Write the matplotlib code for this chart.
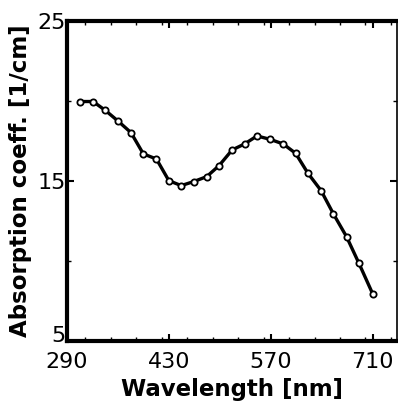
import numpy as np
import matplotlib.pyplot as plt
import matplotlib.transforms as mtransforms
from matplotlib.ticker import MultipleLocator

# Absorption spectrum
wavelength = [308, 326, 343, 360, 378, 395, 413, 430, 447, 464, 482, 499,
              517, 534, 551, 569, 587, 604, 621, 639, 656, 674, 691, 710]
absorption = [19.96, 19.96, 19.4, 18.75, 18.02, 16.69, 16.37, 15.02, 14.71,
              14.96, 15.27, 15.96, 16.94, 17.31, 17.81, 17.6, 17.31, 16.73,
              15.48, 14.4, 12.94, 11.52, 9.86, 7.94]

x_ticks = [290, 430, 570, 710]
y_ticks = [5, 15, 25]

fig = plt.figure(figsize=(3.98, 4.16), dpi=100)
ax = fig.add_axes([0.168, 0.180, 0.829, 0.770])

ax.plot(wavelength, absorption, color='black', lw=2.4, marker='o', ms=4.5,
        mfc='white', mec='black', mew=1.3)

ax.set_xlim(290, 743)
ax.set_ylim(5, 25)
ax.set_xticks(x_ticks)
ax.set_yticks(y_ticks)
ax.xaxis.set_minor_locator(MultipleLocator(35))
ax.yaxis.set_minor_locator(MultipleLocator(5))
ax.tick_params(which='both', direction='in', top=True, right=True)
ax.tick_params(which='major', length=5, width=1.5, labelsize=16)
ax.tick_params(axis='x', which='major', pad=8)
ax.tick_params(axis='y', which='major', pad=1)
ax.tick_params(which='minor', length=3, width=1)

# lift the bottom "5" a little so it clears "290", as in the original
lbl5 = ax.get_yticklabels()[0]
lbl5.set_transform(lbl5.get_transform() +
                   mtransforms.ScaledTranslation(0, 5 / 72, fig.dpi_scale_trans))

for side, s in ax.spines.items():
    s.set_linewidth(3 if side in ('left', 'bottom', 'top') else 1.2)

ax.set_xlabel("Wavelength [nm]", fontsize=16.5, fontweight='bold', labelpad=4)
ax.set_ylabel("Absorption coeff. [1/cm]", fontsize=16.5, fontweight='bold',
              labelpad=4)

plt.savefig("out.png", dpi=100)
